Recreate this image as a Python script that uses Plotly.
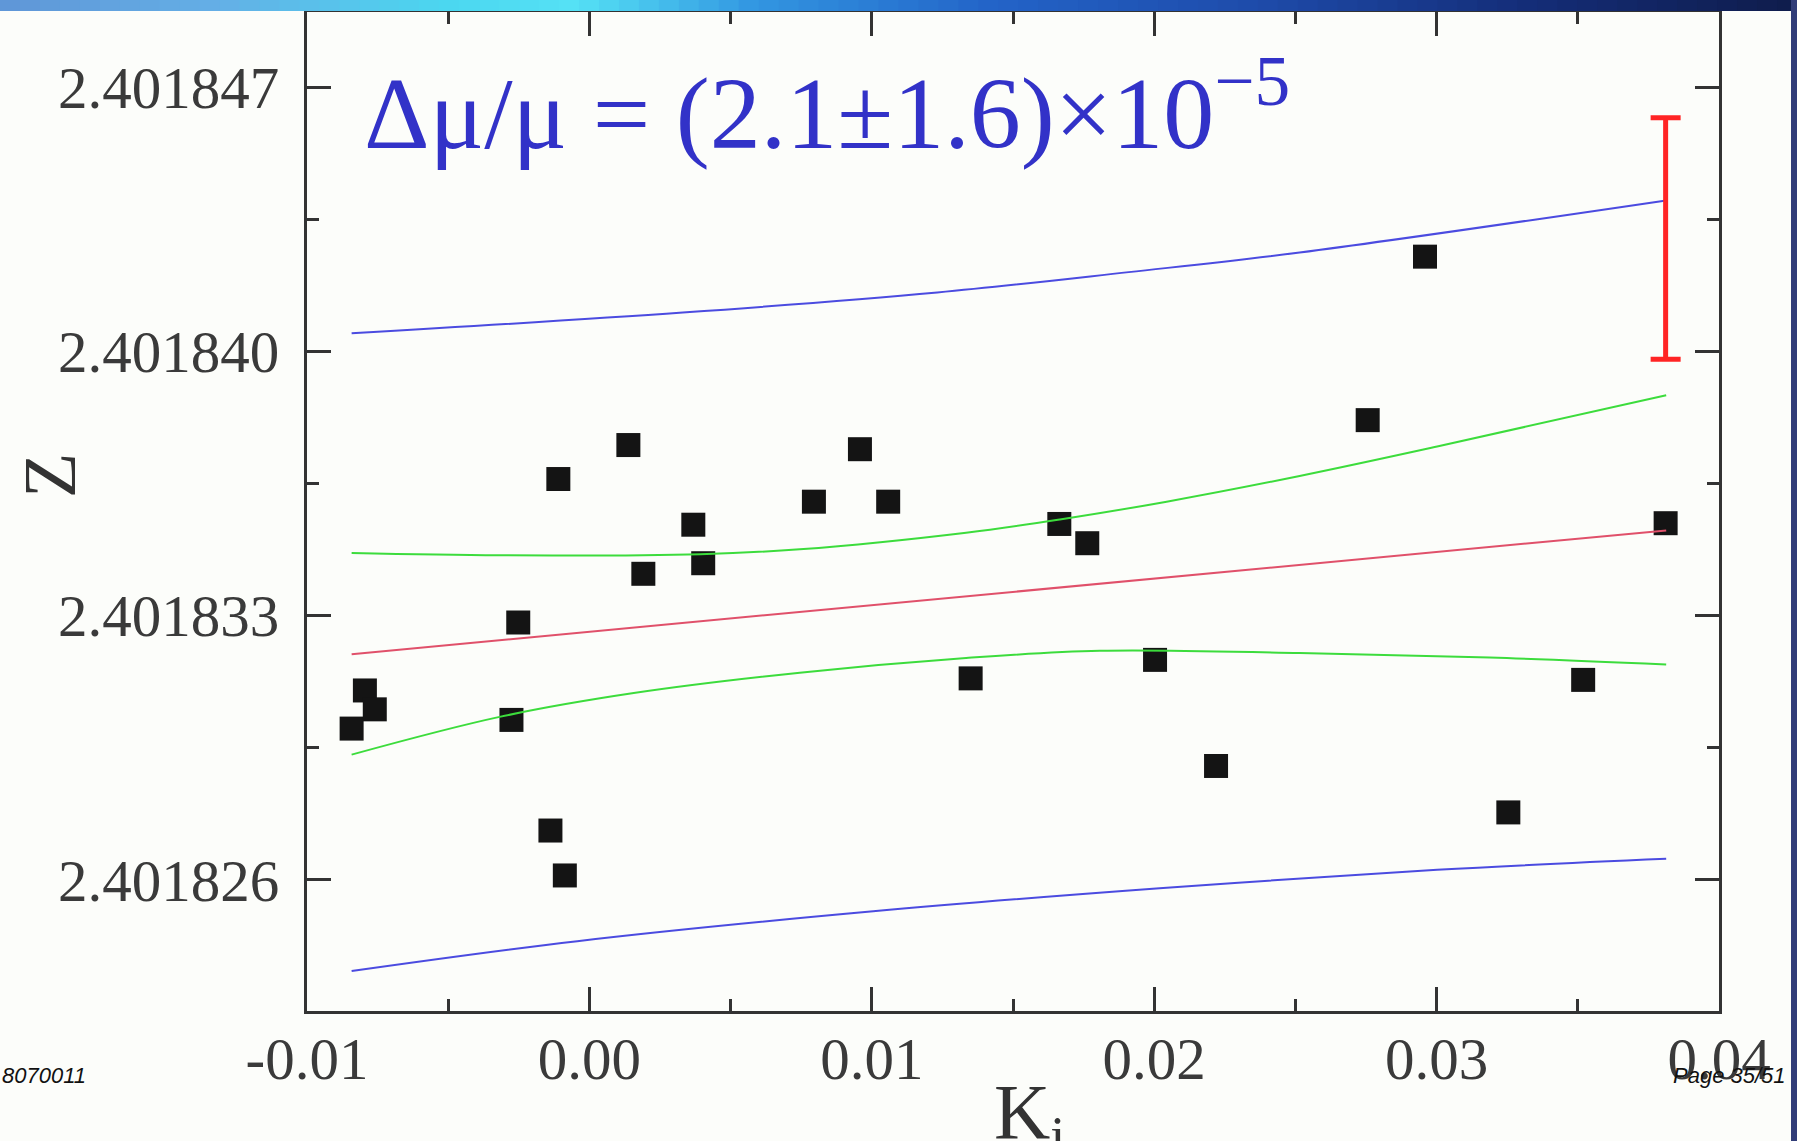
import plotly.graph_objects as go

# ---------------- data ----------------
k_values = [-0.00842, -0.00795, -0.00760, -0.00276, -0.00252, -0.00138, -0.00087,
            -0.00110, 0.00138, 0.00191, 0.00368, 0.00403, 0.00795, 0.00958,
            0.01058, 0.01350, 0.01664, 0.01763, 0.02003, 0.02219, 0.02756,
            0.02959, 0.03254, 0.03519, 0.03811]
z_values = [2.40183001, 2.40183102, 2.40183052, 2.40183024, 2.40183282, 2.40182731,
            2.40182612, 2.40183662, 2.40183752, 2.40183411, 2.40183541, 2.40183439,
            2.40183602, 2.40183741, 2.40183602, 2.40183134, 2.40183543, 2.40183492,
            2.40183183, 2.40182902, 2.40183818, 2.40184251, 2.40182779, 2.40183130,
            2.40183545]

fit_k = [-0.00842, 0.03813]
fit_z = [2.40183198, 2.40183526]

green_up_k = [-0.00842, -0.00318, 0.00392, 0.00745, 0.01334, 0.01666, 0.02044, 0.02515, 0.03002, 0.03813]
green_up_z = [2.40183466, 2.40183460, 2.40183463, 2.40183476, 2.40183520, 2.40183555,
              2.40183602, 2.40183670, 2.40183748, 2.40183884]
green_lo_k = [-0.00842, -0.00318, 0.00157, 0.00745, 0.01334, 0.01808, 0.02515, 0.03188, 0.03813]
green_lo_z = [2.40182932, 2.40183032, 2.40183095, 2.40183149, 2.40183188, 2.40183207,
              2.40183201, 2.40183189, 2.40183171]
blue_up_k = [-0.00842, 0.00331, 0.01232, 0.01910, 0.02515, 0.03813]
blue_up_z = [2.40184048, 2.40184103, 2.40184156, 2.40184210, 2.40184262, 2.40184400]
blue_lo_k = [-0.00842, -0.00043, 0.01005, 0.02019, 0.03002, 0.03813]
blue_lo_z = [2.40182359, 2.40182438, 2.40182517, 2.40182578, 2.40182627, 2.40182656]

errbar_k = [0.03811]
errbar_z = [2.40184299]
errbar_half = [3.2e-6]

x_ticks = [-0.01, 0.0, 0.01, 0.02, 0.03, 0.04]
x_ticktext = ["-0.01", "0.00", "0.01", "0.02", "0.03", "0.04"]
x_minor = [-0.005, 0.005, 0.015, 0.025, 0.035]
y_ticks = [2.401826, 2.401833, 2.401840, 2.401847]
y_ticktext = ["2.401826", "2.401833", "2.401840", "2.401847"]
y_minor = [2.4018295, 2.4018365, 2.4018435]

formula_text = "Δμ/μ = (2.1±1.6)×10<sup>−5</sup>"

# ---------------- layout geometry ----------------
W, H = 1797, 1141
L, R, T, B = 307, 78, 12, 130
PW, PH = W - L - R, H - T - B


def px(x):
    return (x - L) / PW


def py(y):
    return (H - B - y) / PH


SERIF = "Liberation Serif, Times New Roman, serif"
BG = "#fcfdfa"

fig = go.Figure()

line_w = 2
fig.add_trace(go.Scatter(x=k_values, y=z_values, mode="markers",
                         marker=dict(symbol="square", size=24, color="#141414"),
                         showlegend=False, hoverinfo="skip"))
for kx, kz, col in [(blue_up_k, blue_up_z, "#4b4be0"), (blue_lo_k, blue_lo_z, "#4b4be0"),
                    (green_up_k, green_up_z, "#3cdc3c"), (green_lo_k, green_lo_z, "#3cdc3c")]:
    fig.add_trace(go.Scatter(x=kx, y=kz, mode="lines",
                             line=dict(color=col, width=line_w, shape="spline", smoothing=1.0),
                             showlegend=False, hoverinfo="skip"))
fig.add_trace(go.Scatter(x=fit_k, y=fit_z, mode="lines",
                         line=dict(color="#e0506a", width=line_w),
                         showlegend=False, hoverinfo="skip"))
fig.add_trace(go.Scatter(x=errbar_k, y=errbar_z, mode="markers",
                         marker=dict(size=1, color="rgba(0,0,0,0)"),
                         error_y=dict(type="data", array=errbar_half, visible=True,
                                      color="#ff2424", thickness=5, width=15),
                         showlegend=False, hoverinfo="skip"))

axis_common = dict(showline=True, linewidth=3, linecolor="#333333", mirror="ticks",
                   ticks="inside", ticklen=24, tickwidth=3, tickcolor="#333333",
                   showgrid=False, zeroline=False,
                   tickfont=dict(family=SERIF, size=59, color="#3a3a3a"))

fig.update_xaxes(range=[-0.01, 0.04], tickmode="array", tickvals=x_ticks, ticktext=x_ticktext,
                 minor=dict(tickmode="array", tickvals=x_minor, ticks="inside", ticklen=12,
                            tickwidth=3, tickcolor="#333333", showgrid=False),
                 ticklabelstandoff=-6, **axis_common)
fig.update_yaxes(range=[2.40182253, 2.40184899], tickmode="array", tickvals=y_ticks,
                 ticktext=y_ticktext,
                 minor=dict(tickmode="array", tickvals=y_minor, ticks="inside", ticklen=12,
                            tickwidth=3, tickcolor="#333333", showgrid=False),
                 ticklabelstandoff=13, **axis_common)

annotations = [
    dict(text=formula_text, x=px(362), y=py(106), xref="paper", yref="paper",
         xanchor="left", yanchor="middle", showarrow=False,
         font=dict(family=SERIF, size=102, color="#3232c8")),
    dict(text="Z", x=px(50), y=py(476), xref="paper", yref="paper",
         xanchor="center", yanchor="middle", textangle=-90, showarrow=False,
         font=dict(family=SERIF, size=74, color="#333333")),
    dict(text="K<sub>i</sub>", x=px(992), y=py(1066), xref="paper", yref="paper",
         xanchor="left", yanchor="top", showarrow=False,
         font=dict(family=SERIF, size=78, color="#333333")),
    dict(text="<i>8070011</i>", x=px(0), y=py(1075), xref="paper", yref="paper",
         xanchor="left", yanchor="middle", showarrow=False,
         font=dict(family="Liberation Sans, Arial, sans-serif", size=22, color="#111111")),
    dict(text="<i>Page 35/51</i>", x=px(1788), y=py(1075), xref="paper", yref="paper",
         xanchor="right", yanchor="middle", showarrow=False,
         font=dict(family="Liberation Sans, Arial, sans-serif", size=22, color="#111111")),
]

# ---- slide decoration: gradient band on top and dark bar on the right ----
stops = [(0.0, (95, 150, 215)), (0.12, (100, 175, 230)), (0.25, (75, 215, 240)),
         (0.32, (85, 225, 245)), (0.42, (50, 150, 225)), (0.55, (35, 100, 200)),
         (0.7, (30, 75, 170)), (0.85, (20, 45, 120)), (1.0, (15, 28, 75))]


def grad(t):
    for (t0, c0), (t1, c1) in zip(stops[:-1], stops[1:]):
        if t0 <= t <= t1:
            f = (t - t0) / (t1 - t0)
            return "rgb(%d,%d,%d)" % tuple(round(a + (b - a) * f) for a, b in zip(c0, c1))
    return "rgb(%d,%d,%d)" % stops[-1][1]


shapes = []
n = 90
for i in range(n):
    x0 = W * i / n
    x1 = W * (i + 1) / n + 1
    shapes.append(dict(type="rect", xref="paper", yref="paper",
                       x0=px(x0), x1=px(x1), y0=py(11), y1=py(0),
                       fillcolor=grad((i + 0.5) / n), line=dict(width=0), layer="above"))
shapes.append(dict(type="rect", xref="paper", yref="paper", x0=px(1791), x1=px(1798),
                   y0=py(H), y1=py(0), fillcolor="#313d78", line=dict(width=0), layer="above"))

fig.update_layout(width=W, height=H, margin=dict(l=L, r=R, t=T, b=B, autoexpand=False),
                  paper_bgcolor=BG, plot_bgcolor=BG, annotations=annotations, shapes=shapes,
                  showlegend=False)

fig.write_html("out.html", config={"displayModeBar": False})
